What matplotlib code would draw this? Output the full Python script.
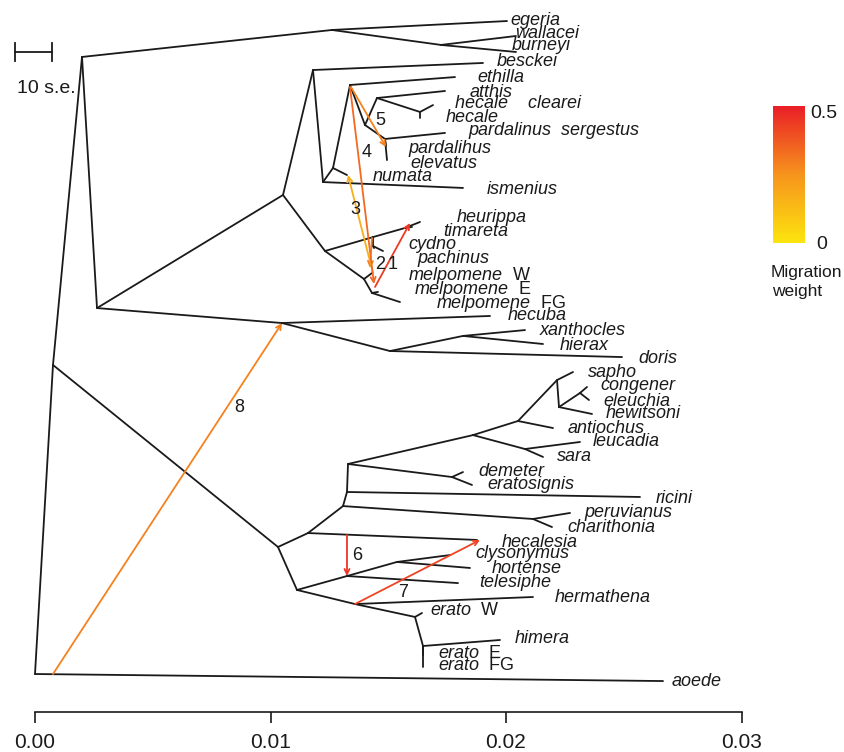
import numpy as np
import matplotlib
matplotlib.use("Agg")
import matplotlib.pyplot as plt
from matplotlib.colors import LinearSegmentedColormap

plt.rcParams['font.family'] = ['Liberation Sans', 'DejaVu Sans']

# ---------------- tree data (TreeMix-style) ----------------
# drift parameter in units of 1e-3, vertical position in tip-order rows
node_names = ['root', 'aoede', 'A', 'B', 'C', 'E0', 'egeria', 'E1', 'wallacei', 'burneyi',
              'D', 'Q', 'H', 'hecuba', 'X', 'X2', 'xanthocles', 'hierax', 'doris',
              'P1', 'besckei', 'P2', 'ismenius', 'P3', 'numata', 'P4', 'ethilla', 'P5', 'P6',
              'atthis', 'P8', 'hecale_clearei', 'hecale', 'P7', 'pardalinus_sergestus',
              'pardalinus', 'elevatus',
              'M', 'T1', 'T2', 'heurippa', 'timareta', 'T3', 'cydno', 'pachinus', 'M2',
              'melpomene_W', 'M3', 'melpomene_E', 'melpomene_FG',
              'C1', 'C2', 'hecalesia', 'N1', 'PC', 'peruvianus', 'charithonia', 'N2', 'ricini',
              'N3', 'S1', 'D1', 'demeter', 'eratosignis', 'S2', 'S3', 'leucadia', 'sara',
              'antiochus', 'S4', 'sapho', 'S5', 'S6', 'hewitsoni', 'congener', 'eleuchia',
              'N5', 'N4', 'N6', 'telesiphe', 'clysonymus', 'hortense', 'hermathena', 'N7',
              'erato_W', 'N8', 'himera', 'erato_E', 'erato_FG']
node_parent = [None, 'root', 'root', 'A', 'A', 'B', 'E0', 'E0', 'E1', 'E1',
               'B', 'D', 'D', 'H', 'H', 'X', 'X2', 'X2', 'X',
               'Q', 'P1', 'P1', 'P2', 'P2', 'P3', 'P3', 'P4', 'P4', 'P5',
               'P6', 'P6', 'P8', 'P8', 'P5', 'P7',
               'P7', 'P7',
               'Q', 'M', 'T1', 'T2', 'T2', 'T1', 'T3', 'T3', 'M',
               'M2', 'M2', 'M3', 'M3',
               'C', 'C', 'C1', 'C1', 'N1', 'PC', 'PC', 'N1', 'N2',
               'N2', 'N3', 'N3', 'D1', 'D1', 'S1', 'S1', 'S3', 'S3',
               'S2', 'S2', 'S4', 'S4', 'S5', 'S5', 'S6', 'S6',
               'C2', 'C2', 'N5', 'N5', 'N6', 'N6', 'N4', 'N4',
               'N7', 'N7', 'N8', 'N8', 'N8']
node_drift = [0.0, 26.667, 0.764, 1.996, 10.318, 12.611, 20.042, 17.240, 20.425, 20.425,
              2.633, 10.531, 10.488, 19.321, 15.074, 18.174, 20.807, 21.571, 24.926,
              11.805, 19.023, 12.229, 18.174, 12.654, 13.248, 13.376, 17.834, 14.013, 14.522,
              17.410, 16.348, 16.900, 16.348, 14.862, 17.410,
              14.904, 14.947,
              12.314, 14.352, 15.711, 16.348, 16.008, 14.352, 14.395, 14.777, 13.970,
              14.310, 14.310, 14.565, 15.499,
              11.592, 11.125, 18.769, 13.079, 21.146, 22.718, 21.953, 13.248, 25.690,
              13.291, 18.599, 17.707, 18.174, 18.556, 20.510, 20.807, 23.142, 21.571,
              21.996, 22.166, 22.845, 22.251, 23.142, 23.652, 23.439, 23.524,
              13.248, 13.588, 15.372, 17.962, 17.622, 18.471, 21.146, 16.136,
              16.433, 16.476, 19.745, 16.476, 16.476]
node_row = [44.59, 45.07, 23.52, 2.52, 35.93, 0.68, 0.07, 1.70, 1.09, 2.18,
            19.64, 11.93, 20.66, 20.18, 22.57, 21.54, 21.14, 22.09, 22.98,
            3.41, 2.93, 11.05, 11.45, 10.09, 10.57, 4.43, 3.89, 7.16, 5.32,
            4.84, 6.27, 5.80, 6.68, 8.11, 7.70,
            8.59, 9.55,
            15.75, 14.80, 14.18, 13.77, 14.11, 15.41, 15.55, 15.75, 17.66,
            17.25, 18.61, 18.54, 19.23,
            34.98, 38.86, 35.45, 33.14, 34.02, 33.61, 34.57, 32.18, 32.52,
            30.27, 28.30, 31.16, 30.82, 31.70, 27.34, 29.25, 28.77, 29.79,
            27.82, 24.55, 24.00, 26.39, 25.43, 26.86, 25.02, 25.91,
            37.91, 39.82, 36.95, 38.39, 36.48, 37.36, 39.34, 40.70,
            40.43, 42.68, 42.27, 43.30, 44.11]

# tip labels
tip_names = ['egeria', 'wallacei', 'burneyi', 'besckei', 'ethilla', 'atthis', 'hecale_clearei',
             'hecale', 'pardalinus_sergestus', 'pardalinus', 'elevatus', 'numata', 'ismenius',
             'heurippa', 'timareta', 'cydno', 'pachinus', 'melpomene_W', 'melpomene_E',
             'melpomene_FG', 'hecuba', 'xanthocles', 'hierax', 'doris', 'sapho', 'congener',
             'eleuchia', 'hewitsoni', 'antiochus', 'leucadia', 'sara', 'demeter', 'eratosignis',
             'ricini', 'peruvianus', 'charithonia', 'hecalesia', 'clysonymus', 'hortense',
             'telesiphe', 'hermathena', 'erato_W', 'himera', 'erato_E', 'erato_FG', 'aoede']
tip_text = ['egeria', 'wallacei', 'burneyi', 'besckei', 'ethilla', 'atthis', 'hecale    clearei',
            'hecale', 'pardalinus  sergestus', 'pardalihus', 'elevatus', 'numata', 'ismenius',
            'heurippa', 'timareta', 'cydno', 'pachinus', 'melpomene', 'melpomene',
            'melpomene', 'hecuba', 'xanthocles', 'hierax', 'doris', 'sapho', 'congener',
            'eleuchia', 'hewitsoni', 'antiochus', 'leucadia', 'sara', 'demeter', 'eratosignis',
            'ricini', 'peruvianus', 'charithonia', 'hecalesia', 'clysonymus', 'hortense',
            'telesiphe', 'hermathena', 'erato', 'himera', 'erato', 'erato', 'aoede']
tip_suffix = ['', '', '', '', '', '', '', '', '', '', '', '', '', '', '', '', '', 'W', 'E', 'FG',
              '', '', '', '', '', '', '', '', '', '', '', '', '', '', '', '', '', '', '', '', '',
              'W', '', 'E', 'FG', '']
label_drift = [20.17, 20.38, 20.25, 19.62, 18.77, 18.47, 17.83, 17.45, 18.39, 15.84, 15.92,
               14.35, 19.19, 17.92, 17.32, 15.84, 16.26, 15.88, 16.14, 17.07, 20.08, 21.44,
               22.29, 25.61, 23.48, 23.99, 24.12, 24.25, 22.63, 23.69, 22.17, 18.81, 19.19,
               26.37, 23.35, 22.59, 19.83, 18.68, 19.41, 18.85, 22.08, 16.77, 20.38, 17.11,
               17.11, 27.05]
label_row = [0.0, 0.95, 1.77, 2.86, 3.95, 4.91, 5.66, 6.68, 7.5, 8.73, 9.75, 10.64, 11.59,
             13.44, 14.45, 15.34, 16.23, 17.45, 18.4, 19.3, 20.18, 21.2, 22.16, 23.1, 24.0,
             24.89, 25.98, 26.86, 27.82, 28.77, 29.73, 30.75, 31.64, 32.59, 33.55, 34.57,
             35.59, 36.34, 37.43, 38.32, 39.34, 40.29, 42.2, 43.16, 44.04, 45.07]

# migration edges
mig_label = ['1', '2', '3', '4', '5', '6', '7', '8']
mig_weight = [0.44, 0.30, 0.17, 0.34, 0.29, 0.45, 0.42, 0.29]
mig_from_drift = [14.437, 14.310, 14.352, 13.376, 13.418, 13.248, 13.588, 0.764]
mig_from_row = [18.20, 14.86, 17.25, 4.57, 4.57, 35.11, 39.82, 44.59]
mig_to_drift = [15.924, 14.225, 13.291, 14.395, 14.904, 13.248, 18.896, 10.488]
mig_to_row = [13.84, 16.91, 10.57, 18.00, 8.66, 37.91, 35.45, 20.66]
mig_label_drift = [15.20, 14.65, 13.588, 14.098, 14.65, 13.673, 15.626, 8.662]
mig_label_row = [16.70, 16.70, 12.95, 9.0, 6.82, 36.48, 39.0, 26.45]

# scale bar (10 standard errors)
se10 = 1.57e-3
se_bar_start = -0.85e-3
se_bar_row = 2.18

xticks = [0.0, 0.01, 0.02, 0.03]
xtick_labels = ['0.00', '0.01', '0.02', '0.03']

# ---------------- drawing ----------------
W, H = 844, 752
fig = plt.figure(figsize=(W / 100, H / 100), dpi=100)
ax = fig.add_axes([0, 40 / H, 1, 712 / H])
ax.set_xlim(-35 / 23550, 809 / 23550)
ax.set_ylim(47.18, -1.3636)

pos = {n: (d * 1e-3, r) for n, d, r in zip(node_names, node_drift, node_row)}
for n, p in zip(node_names, node_parent):
    if p is None:
        continue
    x0, y0 = pos[p]
    x1, y1 = pos[n]
    ax.plot([x0, x1], [y0, y1], color='#1a1a1a', lw=1.3, solid_capstyle='round',
            clip_on=False, zorder=2)

for name, txt, suf, lx, ly in zip(tip_names, tip_text, tip_suffix, label_drift, label_row):
    t = ax.text(lx * 1e-3, ly, txt, fontsize=13, style='italic', ha='left', va='center',
                color='#1a1a1a', clip_on=False)
    if suf:
        ax.annotate('  ' + suf, xy=(1, 0), xycoords=t, ha='left', va='bottom',
                    fontsize=13, color='#1a1a1a', annotation_clip=False)

cmap = LinearSegmentedColormap.from_list('mig', ['#FDE50F', '#F7941D', '#EA1F27'])
for lab, w, fx, fy, tx, ty, lx, ly in zip(mig_label, mig_weight, mig_from_drift, mig_from_row,
                                          mig_to_drift, mig_to_row, mig_label_drift,
                                          mig_label_row):
    c = cmap(w / 0.5)
    ax.annotate('', xy=(tx * 1e-3, ty), xytext=(fx * 1e-3, fy),
                arrowprops=dict(arrowstyle='->', color=c, lw=1.3, shrinkA=0, shrinkB=0,
                                mutation_scale=9),
                annotation_clip=False, zorder=3)
    ax.text(lx * 1e-3, ly, lab, fontsize=13, ha='center', va='center', color='#1a1a1a')

# scale bar
ax.plot([se_bar_start, se_bar_start + se10], [se_bar_row, se_bar_row], color='#1a1a1a',
        lw=1.3, clip_on=False)
for xb in (se_bar_start, se_bar_start + se10):
    ax.plot([xb, xb], [se_bar_row - 0.62, se_bar_row + 0.62], color='#1a1a1a', lw=1.3,
            clip_on=False)
ax.text(se_bar_start + 0.08e-3, 4.70, '10 s.e.', fontsize=14, ha='left', va='center',
        color='#1a1a1a')

# axis
for s in ('left', 'right', 'top'):
    ax.spines[s].set_visible(False)
ax.spines['bottom'].set_bounds(0, 0.03)
ax.spines['bottom'].set_linewidth(1.2)
ax.spines['bottom'].set_color('#1a1a1a')
ax.set_yticks([])
ax.set_xticks(xticks)
ax.set_xticklabels(xtick_labels)
ax.tick_params(axis='x', length=8, width=1.2, pad=7, labelsize=15, colors='#1a1a1a')
ax.patch.set_visible(False)

# colour legend
cax = fig.add_axes([773 / W, (H - 243) / H, 32 / W, 137 / H])
cax.imshow(np.linspace(0, 1, 256)[:, None], aspect='auto', cmap=cmap, origin='lower',
           extent=[0, 1, 0, 0.5])
cax.set_axis_off()
fig.text(810 / W, 1 - 113 / H, '0.5', fontsize=14, ha='left', va='center', color='#1a1a1a')
fig.text(816 / W, 1 - 244 / H, '0', fontsize=14, ha='left', va='center', color='#1a1a1a')
fig.text(771 / W, 1 - 272 / H, 'Migration', fontsize=12.5, ha='left', va='center',
         color='#1a1a1a')
fig.text(772 / W, 1 - 291 / H, 'weight', fontsize=12.5, ha='left', va='center',
         color='#1a1a1a')

fig.savefig('out.png', dpi=100)
